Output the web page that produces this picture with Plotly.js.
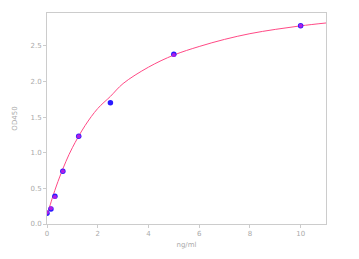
<!DOCTYPE html>
<html><head><meta charset="utf-8">
<script src="https://cdn.plot.ly/plotly-3.0.1.min.js"></script>
<style>html,body{margin:0;padding:0;background:#fff}#c{width:359px;height:259px}</style>
</head><body><div id="c"></div>
<script>
// measured standards
const concX = [0, 0.156, 0.3125, 0.625, 1.25, 2.5, 5, 10];
const odY = [0.15, 0.21, 0.39, 0.74, 1.23, 1.70, 2.38, 2.78];
// fitted values at the standards (magenta dots)
const fitY = [0.16, 0.22, 0.38, 0.74, 1.23, null, 2.37, 2.78];
// fitted curve
const curveX = [0, 0.1, 0.25, 0.5, 0.75, 1, 1.5, 2, 2.5, 3, 4, 5, 6, 7, 8, 9, 10, 11];
const curveY = [0.15, 0.24, 0.41, 0.66, 0.88, 1.07, 1.38, 1.62, 1.79, 1.97, 2.20, 2.37, 2.49, 2.59, 2.67, 2.73, 2.78, 2.82];
const xTicks = [0, 2, 4, 6, 8, 10];
const yTicks = [0, 0.5, 1, 1.5, 2, 2.5];
const yTickText = ['0.0', '0.5', '1.0', '1.5', '2.0', '2.5'];

const traces = [
  {x: curveX, y: curveY, mode: 'lines', line: {color: '#ff4a86', width: 1, shape: 'spline'}, hoverinfo: 'skip'},
  {x: concX, y: odY, mode: 'markers', marker: {color: '#2a1aff', size: 5.5}},
  {x: concX, y: fitY, mode: 'markers', marker: {color: '#c81ee0', size: 4, opacity: 0.85}}
];
const fnt = {family: 'DejaVu Sans', size: 7, color: '#aaa'};
const axisCommon = {
  showgrid: false, zeroline: false, showline: true, mirror: true,
  linecolor: '#cccccc', linewidth: 1, ticks: 'outside', ticklen: 3,
  tickcolor: '#cccccc', tickfont: fnt
};
const layout = {
  width: 359, height: 259, showlegend: false,
  paper_bgcolor: '#fff', plot_bgcolor: '#fff',
  margin: {l: 47, r: 33, t: 13, b: 35},
  xaxis: Object.assign({}, axisCommon, {range: [0, 11], tickvals: xTicks,
    title: {text: 'ng/ml', font: fnt, standoff: 4}}),
  yaxis: Object.assign({}, axisCommon, {range: [0, 2.96], tickvals: yTicks, ticktext: yTickText,
    title: {text: 'OD450', font: fnt, standoff: 12}})
};
Plotly.newPlot('c', traces, layout, {staticPlot: true, displayModeBar: false});
</script></body></html>
